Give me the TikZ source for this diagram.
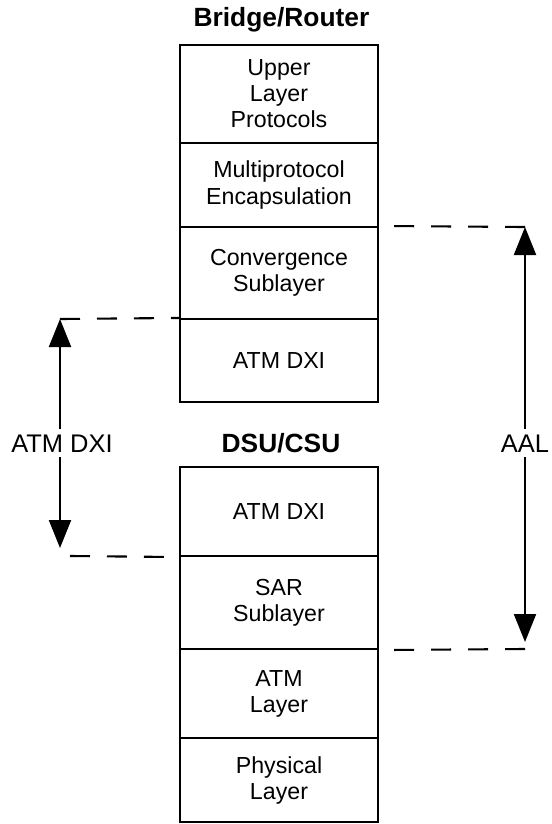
\documentclass[tikz,border=0pt]{standalone}
\usepackage{fontspec}
\setmainfont{Liberation Sans}
\usetikzlibrary{arrows.meta}

\begin{document}
\begin{tikzpicture}[line width=1.2pt]
  \tikzstyle{layer}=[draw,rectangle,minimum width=3.96cm,align=center,inner sep=0pt,font=\fontsize{13.2}{14.8}\selectfont]
  \tikzstyle{title}=[font=\fontsize{15}{18}\selectfont\bfseries]
  \tikzstyle{side}=[fill=white,inner xsep=3pt,inner ysep=2.5pt,anchor=base,font=\fontsize{14.5}{17}\selectfont]
  \tikzstyle{span}=[-{Triangle[length=5.6mm,width=4.4mm]}]
  \tikzstyle{guide}=[dash pattern=on 0.4cm off 0.34cm]
  \useasboundingbox (0,0) rectangle (11.04,-16.48);

  % bridge/router stack
  \node[title] (router) at (5.63,-0.40) {Bridge/Router};
  \node[layer,minimum height=1.96cm] (upper) at (5.58,-1.88)  {Upper\\Layer\\Protocols};
  \node[layer,minimum height=1.68cm] (multi) at (5.58,-3.70)  {Multiprotocol\\Encapsulation};
  \node[layer,minimum height=1.84cm] (conv)  at (5.58,-5.46)  {Convergence\\Sublayer};
  \node[layer,minimum height=1.66cm] (dxiA)  at (5.58,-7.21)  {ATM DXI};

  % dsu/csu stack
  \node[title] (dsu) at (5.62,-8.86) {DSU/CSU};
  \node[layer,minimum height=1.78cm] (dxiB)  at (5.58,-10.23) {ATM DXI};
  \node[layer,minimum height=1.86cm] (sar)   at (5.58,-12.05) {SAR\\Sublayer};
  \node[layer,minimum height=1.78cm] (atm)   at (5.58,-13.87) {ATM\\Layer};
  \node[layer,minimum height=1.68cm] (phys)  at (5.58,-15.60) {Physical\\Layer};

  % ATM DXI span
  \coordinate (dxiTop) at (1.2,-6.38);
  \coordinate (dxiBot) at (1.2,-10.96);
  \coordinate (dxiEnd) at (1.4,-11.12);
  \node[side] (dxiL) at (1.24,-9.04) {ATM DXI};
  \draw[span] (dxiL.north -| dxiTop) -- (dxiTop);
  \draw[span] (dxiL.south -| dxiBot) -- (dxiBot);
  \draw[guide] (dxiTop) -- (dxiA.north west);
  \draw[guide] (dxiEnd) -- (dxiB.south west);

  % AAL span
  \coordinate (aalTop) at (10.5,-4.54);
  \coordinate (aalBot) at (10.5,-12.84);
  \coordinate (aalEnd) at (10.5,-12.98);
  \node[side] (aal) at (10.5,-9.04) {AAL};
  \draw[span] (aal.north) -- (aalTop);
  \draw[span] (aal.south) -- (aalBot);
  \draw[guide] (aalTop) -- (conv.north east);
  \draw[guide] (aalEnd) -- (sar.south east);
\end{tikzpicture}
\end{document}
